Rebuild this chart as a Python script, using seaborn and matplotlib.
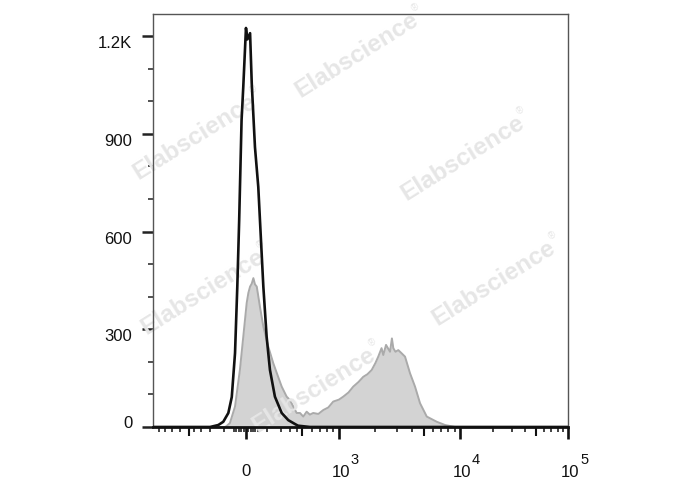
import numpy as np
import pandas as pd
import seaborn as sns
import matplotlib.pyplot as plt
import matplotlib.transforms as mtransforms

# unstained control, black outline histogram
control_fl = [-1000, -204, -138, -106, -78, -61, -46, -36, -28, -18, -11, 0, 6, 17, 24,
              38, 53, 61, 78, 96, 116, 150, 207, 278, 372, 422, 581, 100000]
control_count = [0, 0, 6, 16, 43, 92, 227, 431, 635, 942, 1044, 1225, 1190, 1209, 1056,
                 859, 737, 635, 431, 277, 175, 93, 43, 21, 9, 4, 0, 0]

# stained sample, grey filled histogram
sample_fl = [-1000, -96, -87, -70, -46, -25, -11, 3, 10, 17, 24, 31,
             38, 46, 61, 78, 106, 138, 164, 207, 259, 299, 345,
             399, 460, 512, 546, 580, 618, 680, 746, 820, 899, 1000, 1085, 1200, 1314, 1450, 1589,
             1720, 1865, 2000, 2114, 2250, 2325, 2450, 2642, 2740, 2813, 2930, 3093,
             3300, 3514, 3864, 4249, 4673, 5309, 6420, 7515, 9090, 100000]
sample_count = [0, 0, 3, 12, 63, 175, 277, 381, 412, 431, 440, 457,
                438, 431, 369, 308, 246, 196, 166, 124, 93, 83, 63,
                43, 43, 32, 47, 38, 43, 40, 52, 60, 78, 84, 93, 106, 124, 138, 154,
                162, 175, 196, 216, 242, 221, 252, 231, 272, 242, 231, 236,
                226, 216, 165, 124, 73, 32, 16, 6, 0, 0]

y_ticks = [0, 300, 600, 900, 1200]
y_labels = ["0", "300", "600", "900", "1.2K"]

x_major = [0, 1e3, 1e4, 1e5]
x_medium = [-500, 500, 5e3, 5e4]
x_minor = ([-v for v in (100, 200, 300, 400, 600, 700, 800, 900)]
           + [-50, -40, -30, -20, -10, 10, 20, 30, 40, 50]
           + [100, 200, 300, 400, 600, 700, 800, 900]
           + [k * 1e3 for k in (2, 3, 4, 6, 7, 8, 9)]
           + [k * 1e4 for k in (2, 3, 4, 6, 7, 8, 9)])

# biexponential display: value -> fraction of axis width
biex_values = [-1000, -500, 0, 500, 1000, 1e4, 1e5]
biex_fraction = [0.0, 0.087, 0.224, 0.359, 0.448, 0.740, 1.0]
W = 100.0
_a = np.arcsinh(np.array(biex_values) / W)
_p = np.array(biex_fraction)
_s0 = (_p[1] - _p[0]) / (_a[1] - _a[0])
_s1 = (_p[-1] - _p[-2]) / (_a[-1] - _a[-2])


def biex_fwd(x):
    a = np.arcsinh(np.asarray(x, dtype=float) / W)
    out = np.interp(a, _a, _p)
    out = np.where(a < _a[0], _p[0] + (a - _a[0]) * _s0, out)
    out = np.where(a > _a[-1], _p[-1] + (a - _a[-1]) * _s1, out)
    return out


def biex_inv(y):
    y = np.asarray(y, dtype=float)
    a = np.interp(y, _p, _a)
    a = np.where(y < _p[0], _a[0] + (y - _p[0]) / _s0, a)
    a = np.where(y > _p[-1], _a[-1] + (y - _p[-1]) / _s1, a)
    return W * np.sinh(a)


sns.set_theme(style="white")
plt.rcParams['font.family'] = ['Liberation Sans', 'DejaVu Sans']

control = pd.DataFrame({"fl": control_fl, "count": control_count})
sample = pd.DataFrame({"fl": sample_fl, "count": sample_count})

fig = plt.figure(figsize=(6.88, 4.90), dpi=100)
ax = fig.add_axes([0.2224, 0.1286, 0.6032, 0.8429])

ax.fill_between(sample["fl"], sample["count"], color="#d3d3d3", lw=0, zorder=1)
sns.lineplot(data=sample, x="fl", y="count", ax=ax, color="#aaaaaa", lw=1.4,
             estimator=None, sort=False, zorder=1.5)
sns.lineplot(data=control, x="fl", y="count", ax=ax, color="#111111", lw=1.9,
             estimator=None, sort=False, zorder=3)

ax.set_xscale("function", functions=(biex_fwd, biex_inv))
ax.set_xlim(-1000, 1e5)
ax.set_ylim(0, 1268)
ax.set_xlabel("")
ax.set_ylabel("")

# y axis
ax.set_yticks(y_ticks)
ax.set_yticklabels(y_labels, fontsize=12, color="#111111")
ax.set_yticks(np.arange(100, 1268, 100), minor=True)
ax.tick_params(axis="y", which="major", left=True, direction="out", length=8,
               width=1.8, color="#222222", pad=7)
ax.tick_params(axis="y", which="minor", left=True, direction="out", length=3.6,
               width=1.1, color="#222222")
for lbl in ax.get_yticklabels():
    dy = 3.6 if lbl.get_text() == "0" else -4.3
    lbl.set_transform(lbl.get_transform()
                      + mtransforms.ScaledTranslation(0, dy / 72, fig.dpi_scale_trans))

# x axis
ax.set_xticks(x_major)
ax.set_xticklabels([])
ax.set_xticks(x_minor, minor=True)
ax.tick_params(axis="x", which="major", bottom=True, direction="out", length=8.8,
               width=1.9, color="#111111")
ax.tick_params(axis="x", which="minor", bottom=True, direction="out", length=3.6,
               width=1.1, color="#111111")
ax.plot(x_medium, [0] * len(x_medium), linestyle="none", marker=3, markersize=6.3,
        mew=1.5, color="#111111", clip_on=False,
        transform=ax.get_xaxis_transform(), zorder=4)

for v in x_major:
    if v == 0:
        ax.annotate("0", xy=(v, 0), xycoords=("data", "axes fraction"),
                    xytext=(0, -35.5), textcoords="offset points",
                    ha="center", va="baseline", fontsize=12, color="#111111",
                    annotation_clip=False)
    else:
        ax.annotate("10", xy=(v, 0), xycoords=("data", "axes fraction"),
                    xytext=(8, -36.2), textcoords="offset points",
                    ha="right", va="baseline", fontsize=12, color="#111111",
                    annotation_clip=False)
        ax.annotate(str(int(round(np.log10(v)))), xy=(v, 0),
                    xycoords=("data", "axes fraction"),
                    xytext=(8.6, -26.4), textcoords="offset points",
                    ha="left", va="baseline", fontsize=10.5, color="#111111",
                    annotation_clip=False)

for side in ["left", "top", "right"]:
    ax.spines[side].set_color("#555555")
    ax.spines[side].set_linewidth(1.0)
ax.spines["bottom"].set_color("#111111")
ax.spines["bottom"].set_linewidth(2.0)

# watermark
wm_x = [0.519, 0.283, 0.672, 0.294, 0.718, 0.456]
wm_y = [0.888, 0.720, 0.678, 0.404, 0.422, 0.204]
for x, y in zip(wm_x, wm_y):
    ax.text(x, y, "Elabscience", transform=fig.transFigure, rotation=32,
            ha="center", va="center", fontsize=17.5, fontweight="bold",
            color="#e6e6e6", zorder=2.5, clip_on=False, rotation_mode="anchor")
    ax.annotate("®", xy=(x, y), xycoords="figure fraction", xytext=(42, 34),
                textcoords="offset points", rotation=32, ha="center",
                va="center", fontsize=7, color="#e6e6e6", zorder=2.5,
                annotation_clip=False)

fig.savefig("out.png", dpi=100)
